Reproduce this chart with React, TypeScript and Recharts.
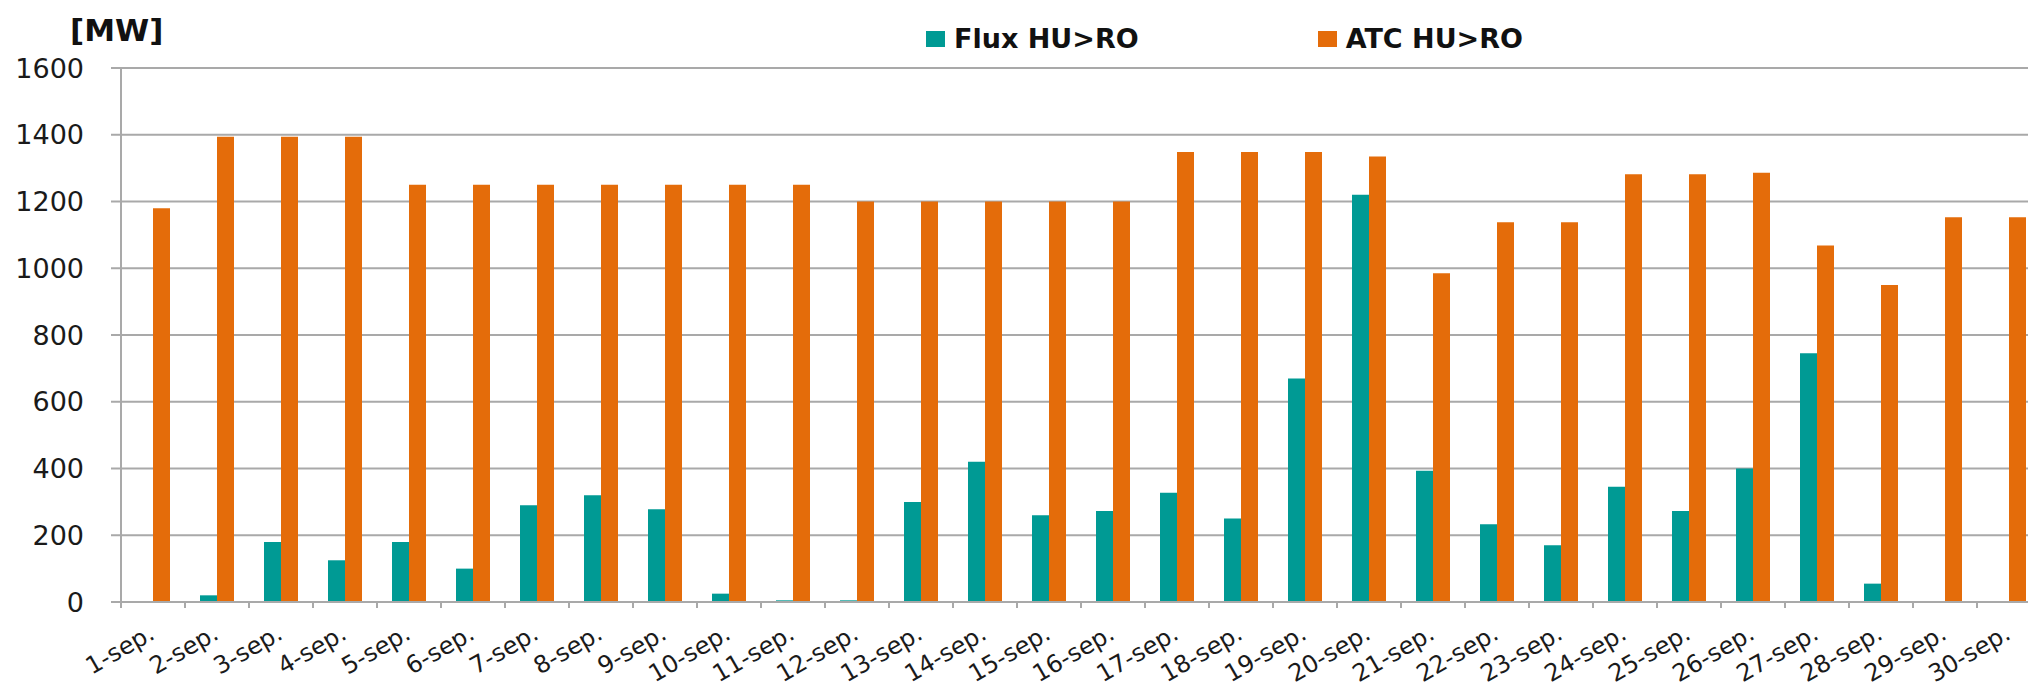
import React from "react";
import {
  BarChart,
  Bar,
  XAxis,
  YAxis,
  CartesianGrid,
  Legend,
} from "recharts";

const days = [
  "1-sep.", "2-sep.", "3-sep.", "4-sep.", "5-sep.", "6-sep.", "7-sep.", "8-sep.",
  "9-sep.", "10-sep.", "11-sep.", "12-sep.", "13-sep.", "14-sep.", "15-sep.",
  "16-sep.", "17-sep.", "18-sep.", "19-sep.", "20-sep.", "21-sep.", "22-sep.",
  "23-sep.", "24-sep.", "25-sep.", "26-sep.", "27-sep.", "28-sep.", "29-sep.",
  "30-sep.",
];

const flux = [
  0, 20, 180, 125, 180, 100, 290, 320, 278, 25, 5, 5, 300, 420, 260, 273, 327,
  250, 670, 1220, 393, 233, 170, 345, 273, 400, 745, 55, 0, 0,
];

const atc = [
  1180, 1394, 1394, 1394, 1250, 1250, 1250, 1250, 1250, 1250, 1250, 1200, 1200,
  1200, 1200, 1200, 1348, 1348, 1348, 1335, 985, 1138, 1138, 1282, 1282, 1286,
  1068, 950, 1153, 1153,
];

const yTicks = [0, 200, 400, 600, 800, 1000, 1200, 1400, 1600];

const TEAL = "#009A94";
const ORANGE = "#E46C0A";
const GRID = "#A9A9A9";
const FONT = "'DejaVu Sans', Verdana, sans-serif";

const Y_AXIS_W = 121;
const PLOT_W = 1920;
const BAND = PLOT_W / days.length;

const chartData = days.map((day, i) => ({ day, flux: flux[i], atc: atc[i] }));

const DayTick = (props: any) => {
  const { x, y, payload } = props;
  const bx = x - BAND / 2;
  return (
    <g>
      <line x1={bx} y1={y} x2={bx} y2={y + 6} stroke={GRID} strokeWidth={2} />
      <text
        x={0}
        y={0}
        transform={`translate(${x + 3},${y + 36}) rotate(-30)`}
        textAnchor="end"
        fontFamily={FONT}
        fontSize={24}
        fill="#1a1a1a"
      >
        {payload.value}
      </text>
    </g>
  );
};

const LegendContent = (props: any) => {
  // keep the series order: Flux first, then ATC
  const order = ["flux", "atc"];
  const items = [...props.payload].sort(
    (a: any, b: any) => order.indexOf(a.dataKey) - order.indexOf(b.dataKey)
  );
  return (
    <div style={{ display: "flex", fontFamily: FONT, fontWeight: "bold", fontSize: 27, color: "#111", lineHeight: "32px" }}>
      {items.map((p: any, i: number) => (
        <div key={p.value} style={{ display: "flex", alignItems: "center", marginRight: i === 0 ? 179 : 0 }}>
          <span style={{ width: 19, height: 16, background: p.color, display: "inline-block", marginRight: 9 }} />
          <span>{p.value}</span>
        </div>
      ))}
    </div>
  );
};

export default function App() {
  return (
    <div
      style={{
        position: "absolute",
        left: 0,
        top: 0,
        width: 2028,
        height: 689,
        overflow: "hidden",
        background: "#fff",
      }}
    >
      <BarChart
        width={Y_AXIS_W + PLOT_W + 2}
        height={689}
        data={chartData}
        margin={{ top: 68, right: 2, left: 0, bottom: 0 }}
        barSize={17}
        barGap={0}
      >
        <CartesianGrid vertical={false} stroke={GRID} strokeWidth={2} />
        <XAxis
          dataKey="day"
          height={87}
          interval={0}
          tickLine={false}
          tickSize={0}
          tickMargin={0}
          axisLine={{ stroke: GRID, strokeWidth: 2 }}
          tick={<DayTick />}
        />
        <YAxis
          width={Y_AXIS_W}
          domain={[0, 1600]}
          ticks={yTicks}
          interval={0}
          tickSize={10}
          tickMargin={27}
          axisLine={{ stroke: GRID, strokeWidth: 2 }}
          tickLine={{ stroke: GRID, strokeWidth: 2 }}
          tick={{ fontFamily: FONT, fontSize: 27, fill: "#1a1a1a" }}
        />
        <Legend
          layout="vertical"
          align="center"
          verticalAlign="middle"
          wrapperStyle={{ top: 23, left: 926, width: 800 }}
          content={<LegendContent />}
        />
        <Bar dataKey="flux" name="Flux HU>RO" fill={TEAL} isAnimationActive={false} />
        <Bar dataKey="atc" name="ATC HU>RO" fill={ORANGE} isAnimationActive={false} />
        <text x={70} y={41} fontFamily={FONT} fontWeight="bold" fontSize={31} fill="#111">
          [MW]
        </text>
      </BarChart>
    </div>
  );
}
